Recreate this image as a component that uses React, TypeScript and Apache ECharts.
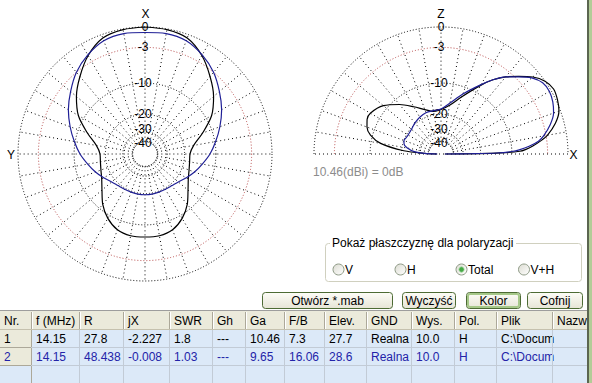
import React, { useEffect, useRef } from 'react';
import * as echarts from 'echarts';

// ---- data (dB relative to 10.46 dBi) ----
const ringLevels = [0, -3, -10, -20, -30, -40];
const ringLabels = ['0', '-3', '-10', '-20', '-30', '-40'];

// azimuth (horizontal) pattern, angle from X axis (top), symmetric
const azAngles = [0, 10, 20, 30, 40, 50, 60, 70, 80, 90, 100, 110, 120, 130, 140, 150, 160, 170, 180];
const azBlack = [0, -0.1, -0.5, -1.9, -3.9, -6.0, -8.6, -12.5, -16.2, -17.8, -17.7, -17.1, -16.0, -14.0, -11.3, -9.2, -7.8, -7.3, -7.3];
const azBlue = [-0.76, -0.65, -0.9, -1.8, -3.0, -4.6, -6.2, -8.0, -9.8, -11.5, -13.4, -15.1, -16.8, -18.4, -19.2, -19.5, -19.6, -19.5, -19.5];

// elevation (vertical) pattern, angle from horizon X (right) to 180 (left)
const elAngles = [0, 0.5, 1, 2, 3, 5, 7.5, 10, 15, 20, 25, 30, 35, 40, 45, 50, 55, 60, 70, 80, 90, 100, 110, 120, 130, 140, 150, 155, 160, 165, 170, 175, 178, 180];
const elBlack = [-60, -21, -13, -8.2, -7.0, -5.5, -4.0, -2.75, -1.2, -0.2, 0.2, 0.4, 0, -1.0, -2.5, -4.0, -5.8, -8.1, -12.6, -16.2, -18.0, -18.5, -17.0, -14.5, -11.6, -9.0, -7.6, -7.6, -8.2, -9.5, -12.5, -21, -35, -60];
const elBlue = [-60, -25, -14, -10, -8.3, -6.2, -4.4, -3.4, -2.0, -1.0, -0.5, -0.25, -0.4, -1.2, -2.6, -4.0, -5.8, -7.9, -11.8, -15.4, -17.8, -18.2, -18.2, -18.8, -19.6, -20.5, -20.7, -20.5, -20.1, -20.6, -22.5, -26.7, -35, -60];

const gainNote = '10.46(dBi) = 0dB';
const groupTitle = 'Pokaż płaszczyznę dla polaryzacji';
const radioLabels = ['V', 'H', 'Total', 'V+H'];
const radioChecked = 2;
const buttonLabels = ['Otwórz *.mab', 'Wyczyść', 'Kolor', 'Cofnij'];

const tableHeaders = ['Nr.', 'f (MHz)', 'R', 'jX', 'SWR', 'Gh', 'Ga', 'F/B', 'Elev.', 'GND', 'Wys.', 'Pol.', 'Plik', 'Nazw'];
const row1 = ['1', '14.15', '27.8', '-2.227', '1.8', '---', '10.46', '7.3', '27.7', 'Realna', '10.0', 'H', 'C:\\Docum', ''];
const row2 = ['2', '14.15', '48.438', '-0.008', '1.03', '---', '9.65', '16.06', '28.6', 'Realna', '10.0', 'H', 'C:\\Docum', ''];

// ---- helpers ----
const arrl = (db: number) => Math.pow(0.89, -db / 2); // ARRL log scale
const R_PX = 127;
const R_MAX = 1.1;
const FONT = 'normal 12px "Liberation Sans", Arial, sans-serif';

function textEl(text: string, x: number, y: number, fill = '#000', align = 'left', lineHeight = 14) {
  return {
    type: 'text', x, y, silent: true, z: 20,
    style: { text, font: FONT, fill, lineHeight, align, verticalAlign: 'middle', textAlign: align, textVerticalAlign: 'middle' },
  };
}

function ringSeries(polarIndex: number, topAngle: number, half: boolean) {
  return {
    type: 'custom', coordinateSystem: 'polar', polarIndex, silent: true, z: 1,
    data: ringLevels.map((d) => [arrl(d), topAngle]),
    renderItem: (params: any, api: any) => {
      const i = params.dataIndex;
      const c = api.coord([0, topAngle]);
      const p = api.coord([api.value(0), topAngle]);
      const rad = Math.hypot(p[0] - c[0], p[1] - c[1]);
      const stroke = ringLevels[i] === -3 ? '#b84a4a' : '#000';
      const st = { fill: 'none', stroke, lineWidth: 1, lineDash: [1, 2] };
      const ring = half
        ? { type: 'arc', shape: { cx: c[0], cy: c[1], r: rad, startAngle: Math.PI, endAngle: 2 * Math.PI }, style: st }
        : { type: 'circle', shape: { cx: c[0], cy: c[1], r: rad }, style: st };
      const label = ringLabels[i];
      const dy = ringLevels[i] === -30 ? -2.5 : ringLevels[i] === -40 ? 1 : 0;
      return {
        type: 'group',
        children: [
          ring,
          {
            type: 'text', x: c[0] + (label.startsWith('-') ? -2 : 0), y: p[1] + dy,
            style: { text: label, font: FONT, fill: '#000', lineHeight: 9, align: 'center', verticalAlign: 'middle', textAlign: 'center', textVerticalAlign: 'middle' },
          },
        ],
      };
    },
  };
}

function spokeSeries(polarIndex: number, angles: number[]) {
  return {
    type: 'custom', coordinateSystem: 'polar', polarIndex, silent: true, z: 1,
    data: angles.map((a) => [1, a]),
    renderItem: (params: any, api: any) => {
      const a = api.value(1);
      const p1 = api.coord([arrl(-40), a]);
      const p2 = api.coord([1, a]);
      return {
        type: 'line',
        shape: { x1: p1[0], y1: p1[1], x2: p2[0], y2: p2[1] },
        style: { stroke: '#000', lineWidth: 1, lineDash: [1, 3], fill: 'none' },
      };
    },
  };
}

function azLoop(vals: number[]) {
  const pts: number[][] = azAngles.map((a, i) => [arrl(vals[i]), a]);
  for (let i = azAngles.length - 2; i >= 0; i--) pts.push([arrl(vals[i]), 360 - azAngles[i]]);
  return pts;
}

function patternSeries(polarIndex: number, data: number[][], color: string, z: number) {
  return {
    type: 'line', coordinateSystem: 'polar', polarIndex, data, symbol: 'none', showSymbol: false,
    smooth: 0.3, silent: true, z, clip: false,
    lineStyle: { color, width: 1.2 },
  };
}

function buildGraphic() {
  const els: any[] = [];
  // axis names & note
  els.push(textEl('X', 145.5, 13.5, '#000', 'center', 9));
  els.push(textEl('Y', 11, 154.5, '#000', 'center', 9));
  els.push(textEl('Z', 441, 13.5, '#000', 'center', 9));
  els.push(textEl('X', 573.5, 154.5, '#000', 'center', 9));
  els.push(textEl(gainNote, 313, 172, '#8c8c8c'));

  // group box
  els.push({ type: 'rect', silent: true, shape: { x: 325.5, y: 243.5, width: 256, height: 38, r: 3 }, style: { fill: 'none', stroke: '#d0d0bf', lineWidth: 1 } });
  els.push({ type: 'rect', silent: true, shape: { x: 330, y: 238, width: 186, height: 10 }, style: { fill: '#fff' } });
  els.push(textEl(groupTitle, 332, 243));
  const radioX = [338.5, 400.5, 461.5, 524];
  const labelX = [345, 407, 468, 530.5];
  radioLabels.forEach((lab, i) => {
    els.push({
      type: 'circle', silent: true, shape: { cx: radioX[i], cy: 269.5, r: 5.5 },
      style: {
        fill: { type: 'linear', x: 0, y: 0, x2: 1, y2: 1, colorStops: [{ offset: 0, color: '#dcdcd2' }, { offset: 1, color: '#ffffff' }] },
        stroke: '#8e9a86', lineWidth: 1,
      },
    });
    if (i === radioChecked) {
      els.push({ type: 'circle', silent: true, shape: { cx: radioX[i], cy: 269.5, r: 2.6 }, style: { fill: '#45a845', stroke: '#8fd08f', lineWidth: 0.8 } });
    }
    els.push(textEl(lab, labelX[i], 269.5));
  });

  // buttons
  const btnX = [262, 402, 466, 527];
  const btnW = [130, 53, 54, 55];
  buttonLabels.forEach((lab, i) => {
    els.push({
      type: 'rect', silent: true, shape: { x: btnX[i] + 0.5, y: 292.5, width: btnW[i], height: 16, r: 3 },
      style: {
        fill: { type: 'linear', x: 0, y: 0, x2: 0, y2: 1, colorStops: [{ offset: 0, color: '#fdfdf7' }, { offset: 1, color: '#e6e4d6' }] },
        stroke: '#4d6b34', lineWidth: 1,
      },
    });
    if (i === 2) {
      els.push({ type: 'rect', silent: true, shape: { x: btnX[i] + 2, y: 294, width: btnW[i] - 3, height: 13, r: 2 }, style: { fill: 'none', stroke: '#a6c889', lineWidth: 2 } });
    }
    els.push(textEl(lab, btnX[i] + btnW[i] / 2 + 0.5, 300.5, '#000', 'center'));
  });

  // table
  const colX = [0, 32, 80, 124, 170, 213, 246, 285, 325, 367, 412, 455, 497, 553, 587];
  const right = 587;
  els.push({ type: 'line', silent: true, shape: { x1: 0, y1: 310.5, x2: right, y2: 310.5 }, style: { stroke: '#9d9d9d', lineWidth: 1 } });
  els.push({ type: 'rect', silent: true, shape: { x: 0, y: 311, width: right, height: 19 }, style: { fill: '#ebeadb' } });
  els.push({ type: 'line', silent: true, shape: { x1: 0, y1: 329.5, x2: right, y2: 329.5 }, style: { stroke: '#c5c1ae', lineWidth: 1 } });
  els.push({ type: 'rect', silent: true, shape: { x: 0, y: 330, width: right, height: 53 }, style: { fill: '#dce9f8' } });
  const rowY = [330, 348, 366];
  [0, 1].forEach((r) => {
    els.push({ type: 'rect', silent: true, shape: { x: 0, y: rowY[r], width: 32, height: 18 }, style: { fill: '#ebeadb' } });
  });
  tableHeaders.forEach((h, c) => els.push(textEl(h, colX[c] + 4, 320.5)));
  [row1, row2].forEach((row, r) => {
    const fill = r === 0 ? '#000' : '#2323a8';
    row.forEach((v, c) => {
      if (v) els.push(textEl(v, colX[c] + 4, rowY[r] + 9, fill));
    });
  });
  // grid lines
  for (let c = 1; c < colX.length - 1; c++) {
    els.push({ type: 'line', silent: true, z: 25, shape: { x1: colX[c] - 0.5, y1: 312, x2: colX[c] - 0.5, y2: 329 }, style: { stroke: '#aca899', lineWidth: 1 } });
    els.push({ type: 'line', silent: true, z: 25, shape: { x1: colX[c] + 0.5, y1: 312, x2: colX[c] + 0.5, y2: 329 }, style: { stroke: '#ffffff', lineWidth: 1 } });
    els.push({ type: 'line', silent: true, z: 25, shape: { x1: colX[c] - 0.5, y1: 330, x2: colX[c] - 0.5, y2: 383 }, style: { stroke: c === 1 ? '#aca899' : '#c2cbd6', lineWidth: 1 } });
  }
  rowY.forEach((y) => {
    els.push({ type: 'line', silent: true, z: 25, shape: { x1: 0, y1: y + 17.5, x2: right, y2: y + 17.5 }, style: { stroke: '#c2cbd6', lineWidth: 1 } });
  });
  els.push({ type: 'line', silent: true, z: 25, shape: { x1: 0, y1: 347.5, x2: 31, y2: 347.5 }, style: { stroke: '#aca899', lineWidth: 1 } });
  els.push({ type: 'line', silent: true, z: 25, shape: { x1: 0, y1: 365.5, x2: 31, y2: 365.5 }, style: { stroke: '#aca899', lineWidth: 1 } });

  // window right border
  els.push({ type: 'rect', silent: true, z: 30, shape: { x: 587, y: 0, width: 2, height: 383 }, style: { fill: '#5b6650' } });
  els.push({ type: 'rect', silent: true, z: 30, shape: { x: 589, y: 0, width: 3, height: 383 }, style: { fill: '#b3cc97' } });
  return els;
}

function buildOption() {
  const spokesAz: number[] = [];
  for (let a = 0; a < 360; a += 10) spokesAz.push(a);
  const spokesEl: number[] = [];
  for (let a = 10; a < 180; a += 10) spokesEl.push(a);

  const axisCommon = { type: 'value', min: 0, max: 360, show: false };
  return {
    animation: false,
    backgroundColor: '#ffffff',
    polar: [
      { center: [145, 154], radius: [0, R_PX * R_MAX] },
      { center: [441, 154], radius: [0, R_PX * R_MAX] },
    ],
    angleAxis: [
      { ...axisCommon, polarIndex: 0, startAngle: 90, clockwise: false },
      { ...axisCommon, polarIndex: 1, startAngle: 0, clockwise: false },
    ],
    radiusAxis: [
      { type: 'value', min: 0, max: R_MAX, show: false, polarIndex: 0 },
      { type: 'value', min: 0, max: R_MAX, show: false, polarIndex: 1 },
    ],
    series: [
      spokeSeries(0, spokesAz),
      spokeSeries(1, spokesEl),
      {
        type: 'line', coordinateSystem: 'polar', polarIndex: 1, data: [[1, 0], [1, 180]],
        symbol: 'none', silent: true, z: 1, lineStyle: { color: '#000', width: 1, type: [1, 3] },
      },
      ringSeries(0, 0, false),
      ringSeries(1, 90, true),
      patternSeries(0, azLoop(azBlack), '#000000', 3),
      patternSeries(0, azLoop(azBlue), '#1f1f96', 4),
      patternSeries(1, elAngles.map((a, i) => [arrl(elBlack[i]), a]), '#000000', 3),
      patternSeries(1, elAngles.map((a, i) => [arrl(elBlue[i]), a]), '#1f1f96', 4),
    ],
    graphic: { elements: buildGraphic() },
  };
}

export default function App() {
  const ref = useRef<HTMLDivElement>(null);
  useEffect(() => {
    const chart = echarts.init(ref.current as HTMLDivElement, null, { renderer: 'svg' });
    chart.setOption(buildOption() as any);
    return () => chart.dispose();
  }, []);
  return <div ref={ref} style={{ position: 'fixed', left: 0, top: 0, width: 592, height: 383 }} />;
}
